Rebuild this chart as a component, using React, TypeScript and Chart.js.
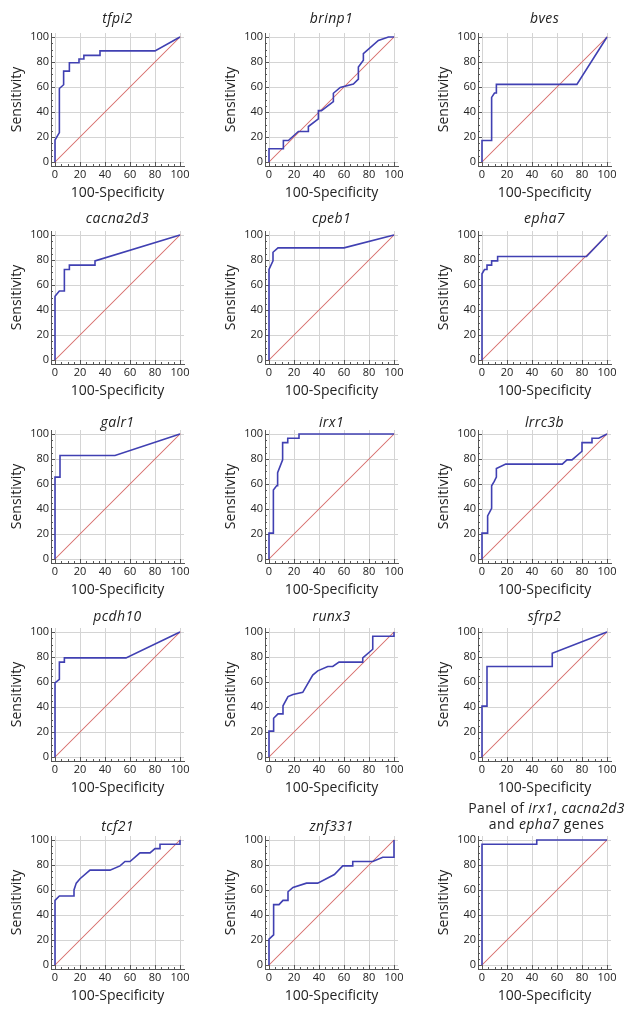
import React, { useEffect, useRef } from "react";
import { Chart, registerables } from "chart.js";

Chart.register(...registerables);

// ---- Data (100-Specificity, Sensitivity) ----
const tickValues = [0, 20, 40, 60, 80, 100];
const diagonal = [[0, 0], [100, 100]];

const tfpi2 = [[0, 0], [0, 17.6], [3.5, 23.5], [3.5, 58.8], [6.9, 61.8], [6.9, 72.7], [11.5, 72.7], [11.5, 79.4], [19.2, 79.4], [19.2, 82.4], [23.1, 82.4], [23.1, 85.3], [36, 85.3], [36, 88.9], [80, 88.9], [100, 100]];
const brinp1 = [[0, 0], [0, 10.6], [11.5, 10.6], [11.5, 17.2], [15.5, 17.2], [23.5, 24.4], [31.5, 24.4], [31.5, 28.4], [39.5, 34.5], [39.5, 41.1], [42, 41.1], [51.5, 48.3], [51.5, 55], [57, 59.7], [67.5, 62.3], [71.5, 66.3], [71.5, 76], [75.5, 81.4], [75.5, 86.7], [87.5, 97.3], [95.5, 100], [100, 100]];
const bves = [[0, 0], [0, 17.2], [7.7, 17.2], [7.7, 51.7], [10, 55.2], [11.5, 55.2], [11.5, 62.1], [75.9, 62.1], [100, 100]];
const cacna2d3 = [[0, 0], [0, 51], [3.5, 55.2], [7.5, 55.2], [7.5, 72.4], [11.5, 72.4], [11.5, 75.9], [32, 75.9], [32, 79.3], [100, 100]];
const cpeb1 = [[0, 0], [0, 72.4], [3.2, 79.3], [3.2, 86.2], [7.2, 89.7], [60, 89.7], [100, 100]];
const epha7 = [[0, 0], [0, 69], [2, 72.4], [4, 72.4], [4, 75.9], [7.7, 75.9], [7.7, 79.3], [12.5, 79.3], [12.5, 82.8], [83.6, 82.8], [100, 100]];
const galr1 = [[0, 0], [0, 65.5], [4, 65.5], [4, 82.8], [48, 82.8], [100, 100]];
const irx1 = [[0, 0], [0, 20.7], [3.5, 20.7], [3.5, 55.2], [6.1, 58.6], [6.9, 58.6], [6.9, 69], [10.9, 79.3], [10.9, 93.1], [15, 93.1], [15, 96.6], [24, 96.6], [24, 100], [100, 100]];
const lrrc3b = [[0, 0], [0, 20.7], [4.5, 20.7], [4.5, 34.5], [7.7, 40.5], [7.7, 58.6], [9.8, 62.1], [11.5, 65.5], [11.5, 72.4], [19, 75.9], [64.2, 75.9], [68, 79.3], [72, 79.3], [80, 86.2], [80, 93.1], [88, 93.1], [88, 96.6], [93.4, 96.6], [100, 100]];
const pcdh10 = [[0, 0], [0, 59.3], [3.5, 62.1], [3.5, 75.9], [7.5, 75.9], [7.5, 79.3], [56.8, 79.3], [100, 100]];
const runx3 = [[0, 0], [0, 20.7], [3.7, 20.7], [3.7, 31], [7.2, 34.5], [11.2, 34.5], [11.2, 41], [15.2, 48.3], [19.2, 50], [27, 51.7], [35, 65.5], [39, 68.9], [47, 72.4], [51, 72.4], [56, 75.9], [75, 75.9], [75, 79.3], [83, 86.2], [83, 96.6], [100, 96.6], [100, 100]];
const sfrp2 = [[0, 0], [0, 40.7], [4, 40.7], [4, 72.4], [56.2, 72.4], [56.2, 83], [100, 100]];
const tcf21 = [[0, 0], [0, 51.7], [3.5, 55.2], [15.2, 55.2], [15.2, 60], [17, 65.5], [20, 69], [28, 75.9], [44, 75.9], [52, 79.3], [56, 82.8], [60, 82.8], [68, 89.7], [76, 89.7], [80, 93.1], [84, 93.1], [84, 96.6], [100, 96.6], [100, 100]];
const znf331 = [[0, 0], [0, 20.7], [3.7, 24.1], [3.7, 48.3], [8, 48.3], [11.2, 51.7], [15.2, 51.7], [15.2, 58.6], [19.2, 62.1], [30, 65.5], [39, 65.5], [52.3, 72.4], [59, 79.3], [67, 79.3], [67, 82.8], [83, 82.8], [91, 86.2], [100, 86.2], [100, 100]];
const panelCombined = [[0, 0], [0, 96.6], [43.8, 96.6], [43.8, 100], [100, 100]];

const geneNames = ["tfpi2", "brinp1", "bves", "cacna2d3", "cpeb1", "epha7", "galr1", "irx1", "lrrc3b", "pcdh10", "runx3", "sfrp2", "tcf21", "znf331", "panel"];
const curves = [tfpi2, brinp1, bves, cacna2d3, cpeb1, epha7, galr1, irx1, lrrc3b, pcdh10, runx3, sfrp2, tcf21, znf331, panelCombined];

// ---- Layout ----
const FONT = "'Open Sans', sans-serif";
const CANVAS_W = 195;
const CANVAS_H = 185;
const Y_AXIS_W = 48;
const X_AXIS_H = 40;
const COL_LEFT = [3, 217, 430];
const ROW_TOP = [21, 219, 418, 616, 824];
const TITLE_Y = [18.3, 218.3, 421.7, 615.7, 825.7];

const RED = "rgb(214, 104, 102)";
const BLUE = "rgb(64, 64, 178)";

const axisTicks = {
  id: "axisTicks",
  beforeDatasetsDraw(chart: any) {
    const { ctx, chartArea, scales } = chart;
    const xs = scales.x;
    const ys = scales.y;
    ctx.save();
    ctx.strokeStyle = "#555";
    ctx.lineWidth = 1;
    for (let v = 0; v <= 100; v += 5) {
      const len = v % 20 === 0 ? 4 : 2;
      const px = Math.round(xs.getPixelForValue(v)) + 0.5;
      ctx.beginPath();
      ctx.moveTo(px, chartArea.bottom);
      ctx.lineTo(px, chartArea.bottom - len);
      ctx.stroke();
      const py = Math.round(ys.getPixelForValue(v)) + 0.5;
      ctx.beginPath();
      ctx.moveTo(chartArea.left, py);
      ctx.lineTo(chartArea.left + len, py);
      ctx.stroke();
    }
    ctx.restore();
  },
};

function toXY(arr: number[][]) {
  return arr.map(([x, y]) => ({ x, y }));
}

function RocChart({ points, left, top }: { points: number[][]; left: number; top: number }) {
  const ref = useRef<HTMLCanvasElement | null>(null);
  useEffect(() => {
    if (!ref.current) return;
    const tickFont = { family: FONT, size: 11 };
    const titleFont = { family: FONT, size: 14 };
    const common = {
      type: "linear" as const,
      min: -3.2,
      max: 103.2,
      afterBuildTicks: (s: any) => {
        s.ticks = tickValues.map((v) => ({ value: v }));
      },
      grid: { color: "#d4d4d4", lineWidth: 1, drawTicks: false },
      border: { display: true, color: "#555", width: 1 },
      ticks: { font: tickFont, color: "#222", padding: 2, maxRotation: 0, autoSkip: false },
    };
    const chart = new Chart(ref.current, {
      type: "line",
      data: {
        datasets: [
          {
            label: "reference",
            data: toXY(diagonal),
            borderColor: RED,
            backgroundColor: RED,
            borderWidth: 1.05,
            borderCapStyle: "round",
            pointRadius: 0,
            fill: false,
            order: 2,
          },
          {
            label: "roc",
            data: toXY(points),
            borderColor: BLUE,
            backgroundColor: BLUE,
            borderWidth: 1.6,
            pointRadius: 0,
            fill: false,
            order: 1,
          },
        ],
      },
      options: {
        animation: false,
        responsive: false,
        devicePixelRatio: 1,
        layout: { padding: { left: 0, top: 12, right: 14, bottom: 0 } },
        plugins: {
          legend: { display: false },
          tooltip: { enabled: false },
          title: { display: false },
          colors: { enabled: false },
        },
        scales: {
          x: {
            ...common,
            afterFit: (s: any) => {
              s.height = X_AXIS_H;
            },
            title: { display: true, text: "100-Specificity", font: titleFont, color: "#222", padding: { top: 0, bottom: 5 } },
          },
          y: {
            ...common,
            afterFit: (s: any) => {
              s.width = Y_AXIS_W;
            },
            title: { display: true, text: "Sensitivity", font: titleFont, color: "#222", padding: { top: 6, bottom: 0 } },
          },
        },
      } as any,
      plugins: [axisTicks],
    });
    return () => chart.destroy();
  }, [points]);
  return (
    <canvas
      ref={ref}
      width={CANVAS_W}
      height={CANVAS_H}
      style={{ position: "absolute", left, top, width: CANVAS_W, height: CANVAS_H }}
    />
  );
}

export default function App() {
  const titleStyle: React.CSSProperties = {
    position: "absolute",
    width: 220,
    textAlign: "center",
    fontFamily: FONT,
    fontSize: 14,
    lineHeight: "18px",
    color: "#222",
    letterSpacing: "0.4px",
    whiteSpace: "nowrap",
  };
  return (
    <div style={{ position: "absolute", left: 0, top: 0, width: 636, height: 1016, background: "#fff", overflow: "hidden" }}>
      {curves.map((pts, i) => {
        const row = Math.floor(i / 3);
        const col = i % 3;
        const left = COL_LEFT[col];
        const top = ROW_TOP[row];
        const cx = left + Y_AXIS_W + 4 + 62.5;
        const name = geneNames[i];
        return (
          <React.Fragment key={name}>
            <RocChart points={pts} left={left} top={top} />
            {name === "panel" ? (
              <div style={{ ...titleStyle, left: cx - 110 + 2, top: 800, lineHeight: "16px" }}>
                Panel of <i>irx1</i>, <i>cacna2d3</i>
                <br />
                and <i>epha7</i> genes
              </div>
            ) : (
              <div style={{ ...titleStyle, left: cx - 110, top: TITLE_Y[row] - 9, fontStyle: "italic" }}>{name}</div>
            )}
          </React.Fragment>
        );
      })}
    </div>
  );
}
